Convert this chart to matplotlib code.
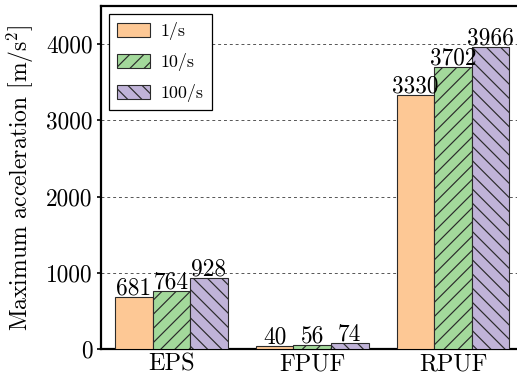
import matplotlib
matplotlib.use("Agg")
import matplotlib.pyplot as plt
import numpy as np

DPI = 85
K = 100 / DPI  # keeps text and line sizes constant in pixels at this dpi

plt.rcParams["font.family"] = "serif"
plt.rcParams["font.serif"] = ["cmr10"]
plt.rcParams["mathtext.fontset"] = "cm"
plt.rcParams["axes.formatter.use_mathtext"] = False
plt.rcParams["hatch.linewidth"] = 0.85 * K

materials = ["EPS", "FPUF", "RPUF"]
rates = ["1/s", "10/s", "100/s"]
acc_1 = [681, 40, 3330]
acc_10 = [764, 56, 3702]
acc_100 = [928, 74, 3966]

colors = ["#fdc895", "#a3d99b", "#c0b3d8"]
hatches = ["", "//", "\\\\"]

fig = plt.figure(figsize=(517 / DPI, 379 / DPI), dpi=DPI)
ax = fig.add_axes([101 / 517, 30 / 379, 422.5 / 517, 343 / 379])

x = np.arange(len(materials))
width = 0.8 / 3
series = [acc_1, acc_10, acc_100]
for i, (vals, lab) in enumerate(zip(series, rates)):
    pos = x + (i - 1) * width
    bars = ax.bar(pos, vals, width, color=colors[i], edgecolor="#2a2a2a",
                  linewidth=0.8 * K, hatch=hatches[i], label=lab, zorder=3)
    for b, v in zip(bars, vals):
        ax.text(b.get_x() + b.get_width() / 2, v + 35, f"{v}",
                ha="center", va="baseline", fontsize=16.8 * K, zorder=4)

ax.set_xlim(-0.5, 2.5)
ax.set_ylim(0, 4500)
ax.set_yticks([0, 1000, 2000, 3000, 4000])
ax.set_xticks(x)
ax.set_xticklabels(materials)
ax.tick_params(axis="x", length=0, labelsize=17.5 * K, pad=3 * K)
ax.tick_params(axis="y", length=3 * K, width=1.2 * K, labelsize=16.8 * K,
               direction="out", pad=3 * K)
ax.set_ylabel(r"Maximum acceleration [m/s$^2$]", fontsize=17 * K, labelpad=7 * K)

ax.yaxis.grid(True, linestyle=(0, (3, 3)), color="#555555", linewidth=0.7 * K, zorder=0)
ax.set_axisbelow(True)

for s in ["left", "top", "bottom", "right"]:
    ax.spines[s].set_linewidth(1.6 * K)

leg = ax.legend(loc="upper left", fontsize=13 * K, fancybox=False, edgecolor="black",
                handlelength=1.8, handleheight=0.85, labelspacing=0.72,
                borderaxespad=0.45, handletextpad=0.6, borderpad=0.45,
                framealpha=1.0)
leg.get_frame().set_linewidth(0.9 * K)

fig.savefig("out.png", dpi=DPI)
